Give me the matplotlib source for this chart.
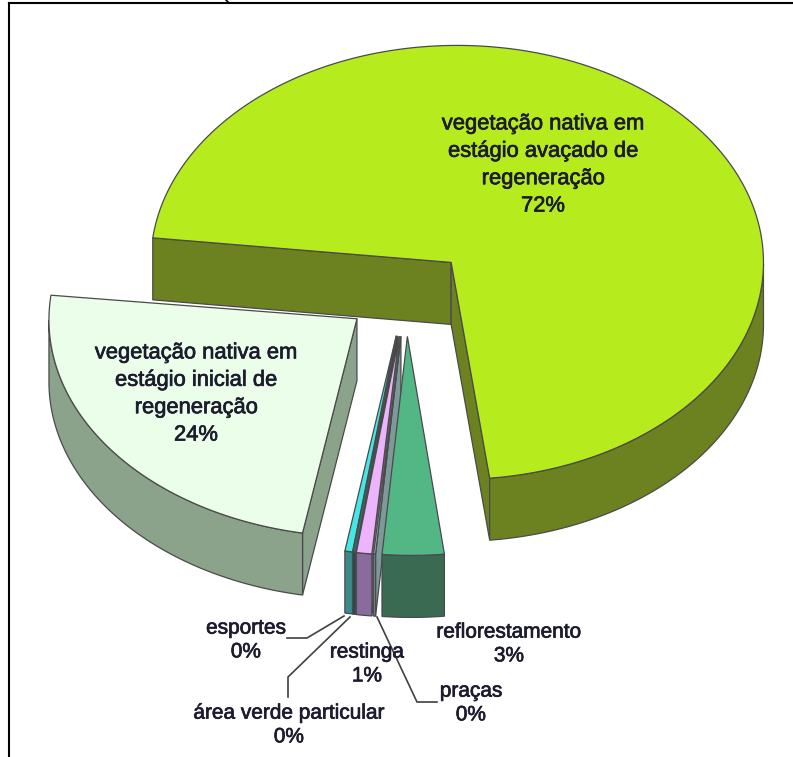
import numpy as np
import matplotlib
matplotlib.use('Agg')
import matplotlib.pyplot as plt
import matplotlib.patheffects as pe
from matplotlib.patches import Polygon

# Slices in clockwise order, starting from the big green one
names = ['vegetação nativa em\nestágio avaçado de\nregeneração', 'reflorestamento', 'praças', 'restinga',
         'área verde particular', 'esportes', 'vegetação nativa em\nestágio inicial de\nregeneração']
values = [71.5, 3.2, 0.1, 0.8, 0.15, 0.4, 23.85]
percent_labels = ['72%', '3%', '0%', '1%', '0%', '0%', '24%']

top_colors = ['#b6ec1e', '#52b785', '#a9c9c9', '#ecb4fb', '#3a6a70', '#45e6e6', '#ebfeea']
side_colors = ['#6c8220', '#3a6b52', '#7d9a9a', '#8a6b9e', '#27484c', '#3a8a8c', '#8aa38a']

# Projection of the pie
center_x, center_y = 407, 293
radius_x, radius_y = 311, 217
depth = 62
explode = 0.2
start_angle = 173.5
edge = '#4a4a4a'
# perspective nudge of the rim ellipse against the apex of each slice
rim_shift = [(6, 0), (4, 2), (4, 2), (4, 2), (5, 2), (6, 2), (3, 1)]
rim_scale = [0.985, 1, 1, 1, 1, 1, 1]

fig = plt.figure(figsize=(7.93, 7.57), dpi=100)
ax = fig.add_axes([0, 0, 1, 1])
ax.set_xlim(0, 793)
ax.set_ylim(757, 0)
ax.axis('off')


def draw_slice(t1, t2, top_color, side_color, shift, scale, zorder):
    # t1 is the start angle, t2 < t1 the end (clockwise)
    mid = (t1 + t2) / 2
    apex = (center_x + explode * radius_x * np.cos(mid), center_y - explode * radius_y * np.sin(mid))

    def rim(ts):
        return (apex[0] + shift[0] + scale * radius_x * np.cos(ts),
                apex[1] + shift[1] - radius_y * np.sin(ts))

    # cut faces that look towards the viewer
    faces = []
    if np.cos(t1) < 0:
        faces.append(rim(t1))
    if np.cos(t2) > 0:
        faces.append(rim(t2))
    for p in faces:
        quad = [apex, p, (p[0], p[1] + depth), (apex[0], apex[1] + depth)]
        ax.add_patch(Polygon(quad, closed=True, fc=side_color, ec=edge, lw=0.9, zorder=zorder))

    # outer wall, only the lower half of the ellipse shows
    ts = np.linspace(t1, t2, 300)
    ts = ts[np.sin(ts) <= 0]
    if len(ts) > 1:
        xs, ys = rim(ts)
        wall = np.vstack([np.column_stack([xs, ys]), np.column_stack([xs[::-1], ys[::-1] + depth])])
        ax.add_patch(Polygon(wall, closed=True, fc=side_color, ec=edge, lw=0.9, zorder=zorder + 0.1))

    # top surface
    xs, ys = rim(np.linspace(t1, t2, 300))
    outline = np.vstack([[apex], np.column_stack([xs, ys])])
    ax.add_patch(Polygon(outline, closed=True, fc=top_color, ec=edge, lw=0.9, zorder=zorder + 0.2))


sweeps = np.radians(np.array(values) / sum(values) * 360)
ends = np.radians(start_angle) - np.cumsum(sweeps)
starts = ends + sweeps

# back slices first, then the thin ones from left to right
for z, i in enumerate([0, 6, 5, 4, 3, 2, 1]):
    draw_slice(starts[i], ends[i], top_colors[i], side_colors[i], rim_shift[i], rim_scale[i], z + 1)

# Labels
text_color = '#1c1c2e'
heavy = [pe.withStroke(linewidth=0.5, foreground=text_color)]
label_pos = [(543, 165), (509, 644), (471, 703), (367, 664), (289, 725), (246, 640), (196, 394)]
label_size = [15.8, 15, 15, 15, 15, 15, 15.8]
label_spacing = [1.4, 1.32, 1.32, 1.32, 1.32, 1.32, 1.4]
for name, pct, pos, size, spacing in zip(names, percent_labels, label_pos, label_size, label_spacing):
    ax.text(pos[0], pos[1], name + '\n' + pct, fontsize=size, family='Liberation Sans', color=text_color,
            ha='center', va='center', linespacing=spacing, zorder=20, path_effects=heavy)

# Leader lines
line_kw = dict(color='#404040', lw=1.2, zorder=15)
ax.plot([287, 307, 344], [638, 638, 616], **line_kw)
ax.plot([288, 288, 350], [697, 677, 617], **line_kw)
ax.plot([437, 417, 377], [702, 702, 617], **line_kw)

# Frame left over from the page
ax.plot([9, 9], [757, 3], color='black', lw=1.5, zorder=30)
ax.plot([9, 793], [3, 3], color='black', lw=1.5, zorder=30)
ax.plot([226, 229], [0, 3], color='black', lw=1.2, zorder=30)

fig.savefig('out.png', dpi=100)
